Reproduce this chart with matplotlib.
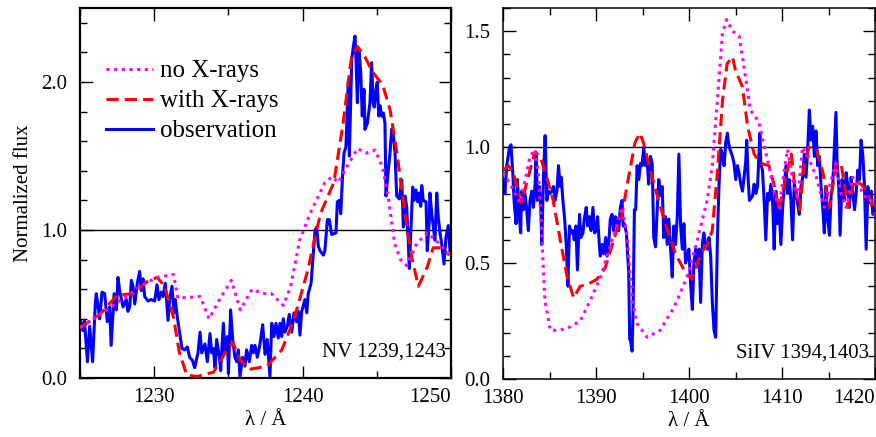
import numpy as np
import matplotlib
matplotlib.use("Agg")
import matplotlib.pyplot as plt
from matplotlib.ticker import MultipleLocator, FormatStrFormatter

plt.rcParams['font.family'] = ['Liberation Serif', 'DejaVu Serif']

# ---- NV 1239,1243 panel ----
nv_model_wl = [1225.0, 1226.35, 1228.4, 1229.2, 1230.2, 1231.3, 1231.6, 1233.1, 1233.7, 1234.4,
               1235.2, 1235.8, 1236.6, 1237.3, 1237.9, 1238.7, 1239.2, 1239.8, 1240.5, 1241.5,
               1242.0, 1242.4, 1243.0, 1243.7, 1244.3, 1244.9, 1245.4, 1245.8, 1246.2, 1246.6,
               1247.0, 1247.7, 1248.4, 1249.0, 1249.9]
nv_noxray = [0.34, 0.43, 0.57, 0.63, 0.68, 0.70, 0.54, 0.55, 0.40, 0.53,
             0.66, 0.46, 0.60, 0.57, 0.57, 0.49, 0.62, 0.93, 1.11, 1.32,
             1.36, 1.32, 1.43, 1.55, 1.52, 1.54, 1.42, 1.20, 0.91, 0.80,
             0.76, 0.91, 0.98, 0.93, 0.83]

nv_xray_wl = [1225.0, 1226.35, 1227.5, 1228.6, 1229.5, 1230.2, 1230.7, 1231.3, 1231.7, 1232.2,
              1232.9, 1234.0, 1234.9, 1235.3, 1235.8, 1236.5, 1237.6, 1238.6, 1239.4, 1240.3,
              1241.2, 1242.1, 1242.7, 1243.3, 1243.7, 1244.2, 1244.7, 1245.4, 1245.9, 1246.4,
              1246.8, 1247.3, 1247.8, 1248.4, 1248.8, 1249.3, 1249.9]
nv_xray = [0.34, 0.43, 0.56, 0.57, 0.65, 0.68, 0.62, 0.41, 0.17, 0.02,
           0.01, 0.04, 0.19, 0.24, 0.12, 0.06, 0.08, 0.19, 0.39, 0.71,
           1.11, 1.32, 1.70, 2.17, 2.24, 2.17, 2.07, 1.98, 1.81, 1.49,
           1.18, 0.84, 0.62, 0.75, 0.88, 0.88, 0.83]

nv_obs_wl = [1225.05, 1225.2, 1225.3, 1225.5, 1225.65, 1225.85, 1226.03, 1226.1, 1226.33, 1226.48,
             1226.66, 1226.84, 1227.0, 1227.1, 1227.3, 1227.45, 1227.56, 1227.67, 1227.9, 1228.12,
             1228.23, 1228.35, 1228.46, 1228.57, 1228.69, 1228.86, 1229.02, 1229.13, 1229.25, 1229.36,
             1229.58, 1229.8, 1230.03, 1230.19, 1230.32, 1230.48, 1230.59, 1230.75, 1230.93, 1231.04,
             1231.2, 1231.33, 1231.42, 1231.56, 1231.72, 1231.87, 1232.05, 1232.23, 1232.39, 1232.57,
             1232.73, 1232.95, 1233.09, 1233.2, 1233.42, 1233.58, 1233.76, 1233.87, 1233.98, 1234.1,
             1234.21, 1234.39, 1234.48, 1234.66, 1234.77, 1234.93, 1235.0, 1235.15, 1235.29, 1235.44,
             1235.56, 1235.67, 1235.78, 1235.96, 1236.12, 1236.23, 1236.41, 1236.57, 1236.68, 1236.79,
             1236.95, 1237.13, 1237.31, 1237.47, 1237.62, 1237.8, 1237.92, 1238.07, 1238.21, 1238.36,
             1238.48, 1238.59, 1238.7, 1238.81, 1238.97, 1239.1, 1239.27, 1239.42, 1239.6, 1239.71,
             1239.82, 1239.94, 1240.16, 1240.28, 1240.38, 1240.57, 1240.72, 1240.84, 1240.95, 1241.06,
             1241.17, 1241.4, 1241.5, 1241.67, 1241.8, 1241.96, 1242.25, 1242.34, 1242.47, 1242.57,
             1242.7, 1242.79, 1242.92, 1243.01, 1243.08, 1243.15, 1243.24, 1243.31, 1243.42, 1243.53,
             1243.6, 1243.69, 1243.8, 1243.92, 1244.02, 1244.14, 1244.2, 1244.36, 1244.54, 1244.65,
             1244.76, 1244.83, 1244.95, 1245.03, 1245.13, 1245.22, 1245.33, 1245.44, 1245.55, 1245.62,
             1245.78, 1245.89, 1246.0, 1246.11, 1246.23, 1246.34, 1246.52, 1246.68, 1246.79, 1246.9,
             1247.01, 1247.12, 1247.19, 1247.28, 1247.42, 1247.51, 1247.64, 1247.76, 1247.86, 1247.96,
             1248.03, 1248.13, 1248.32, 1248.4, 1248.54, 1248.58, 1248.7, 1248.81, 1248.92, 1249.04,
             1249.14, 1249.26, 1249.37, 1249.53, 1249.66, 1249.82, 1249.93]
nv_obs = [0.38, 0.32, 0.39, 0.11, 0.35, 0.11, 0.50, 0.57, 0.40, 0.58,
          0.57, 0.38, 0.48, 0.22, 0.57, 0.46, 0.68, 0.59, 0.48, 0.53,
          0.45, 0.48, 0.66, 0.62, 0.50, 0.64, 0.72, 0.59, 0.67, 0.55,
          0.52, 0.53, 0.52, 0.63, 0.53, 0.58, 0.55, 0.64, 0.39, 0.53,
          0.62, 0.44, 0.53, 0.41, 0.30, 0.20, 0.19, 0.21, 0.14, 0.12,
          0.07, 0.17, 0.31, 0.17, 0.23, 0.11, 0.30, 0.17, 0.20, 0.07,
          0.26, 0.14, 0.05, 0.37, 0.17, 0.28, 0.03, 0.46, 0.26, 0.14,
          0.11, 0.19, 0.01, 0.14, 0.08, 0.19, 0.11, 0.22, 0.17, 0.22,
          0.14, 0.23, 0.36, 0.16, 0.26, 0.01, 0.37, 0.28, 0.37, 0.27,
          0.37, 0.28, 0.40, 0.31, 0.35, 0.43, 0.31, 0.44, 0.38, 0.45,
          0.29, 0.45, 0.53, 0.44, 0.57, 0.64, 0.84, 1.00, 1.02, 0.89,
          0.86, 0.83, 0.86, 1.07, 1.07, 0.97, 0.98, 1.19, 1.20, 1.11,
          1.38, 1.52, 1.56, 1.81, 2.01, 1.50, 1.88, 2.15, 2.24, 2.31,
          2.15, 1.86, 2.22, 2.06, 1.77, 1.95, 1.68, 1.72, 1.86, 2.13,
          1.86, 1.83, 1.95, 2.00, 1.77, 1.84, 1.77, 1.79, 1.72, 1.23,
          1.41, 1.52, 1.68, 1.65, 1.52, 1.23, 1.21, 1.34, 1.02, 1.23,
          1.16, 0.93, 0.74, 0.95, 1.29, 1.20, 1.27, 1.19, 1.25, 1.16,
          1.30, 1.20, 1.19, 0.86, 1.07, 1.25, 1.11, 1.02, 0.93, 1.25,
          1.09, 0.98, 0.91, 0.77, 0.95, 1.03, 0.86]

# ---- SiIV 1394,1403 panel ----
si_model_wl = [1380.03, 1380.9, 1381.8, 1382.4, 1382.9, 1383.45, 1383.8, 1384.17, 1384.5, 1385.1,
               1386.0, 1387.0, 1388.3, 1389.4, 1390.5, 1391.5, 1392.3, 1392.8, 1393.3, 1393.9,
               1394.4, 1395.5, 1396.9, 1398.4, 1399.8, 1400.9, 1401.95, 1402.5, 1403.05, 1403.6,
               1404.06, 1404.67, 1405.4, 1405.9, 1406.6, 1407.5, 1408.1, 1408.6, 1409.2, 1409.7,
               1410.2, 1410.6, 1411.1, 1411.7, 1412.2, 1412.8, 1413.7, 1414.55, 1415.3, 1415.8,
               1416.35, 1416.9, 1417.6, 1418.3, 1419.2, 1420.0]
si_noxray = [0.89, 0.83, 0.76, 0.86, 0.96, 0.99, 0.89, 0.63, 0.34, 0.21,
             0.21, 0.22, 0.25, 0.34, 0.44, 0.57, 0.67, 0.74, 0.63, 0.34,
             0.24, 0.18, 0.21, 0.31, 0.44, 0.60, 0.77, 0.92, 1.20, 1.49,
             1.55, 1.50, 1.48, 1.35, 1.16, 1.11, 1.00, 0.92, 0.80, 0.74,
             0.89, 0.99, 0.87, 0.77, 1.00, 0.96, 0.87, 0.74, 0.86, 0.93,
             0.80, 0.74, 0.87, 0.83, 0.77, 0.77]

si_xray_wl = [1380.03, 1380.6, 1381.1, 1382.0, 1382.7, 1383.45, 1384.0, 1384.7, 1385.4, 1386.15,
              1386.9, 1387.6, 1388.3, 1389.2, 1390.1, 1391.0, 1391.9, 1392.8, 1393.5, 1394.2,
              1394.7, 1395.1, 1395.9, 1396.8, 1397.7, 1398.55, 1399.6, 1400.35, 1401.25, 1401.95,
              1402.5, 1403.05, 1403.6, 1404.1, 1404.67, 1405.0, 1405.75, 1406.3, 1407.0, 1407.7,
              1408.6, 1409.2, 1409.7, 1410.4, 1411.0, 1411.3, 1411.9, 1412.4, 1412.9, 1413.7,
              1414.4, 1415.1, 1415.8, 1416.35, 1417.1, 1417.8, 1418.5, 1419.2, 1419.95]
si_xray = [0.90, 0.92, 0.89, 0.76, 0.87, 0.98, 0.96, 0.87, 0.77, 0.60,
           0.44, 0.35, 0.40, 0.41, 0.43, 0.48, 0.60, 0.71, 0.87, 1.02,
           1.06, 1.02, 0.89, 0.76, 0.64, 0.54, 0.46, 0.43, 0.54, 0.58,
           0.64, 0.89, 1.20, 1.36, 1.39, 1.33, 1.26, 1.09, 0.97, 0.93,
           0.92, 0.83, 0.73, 0.87, 0.97, 0.86, 0.73, 0.93, 1.00, 0.99,
           0.89, 0.74, 0.92, 0.93, 0.74, 0.86, 0.84, 0.81, 0.71]

si_obs_wl = [1380.04, 1380.2, 1380.4, 1380.7, 1380.86, 1381.05, 1381.19, 1381.4, 1381.55, 1381.76,
             1381.9, 1382.0, 1382.2, 1382.37, 1382.55, 1382.73, 1382.9, 1383.1, 1383.27, 1383.45,
             1383.56, 1383.7, 1383.9, 1384.07, 1384.17, 1384.35, 1384.53, 1384.71, 1384.89, 1385.07,
             1385.25, 1385.43, 1385.6, 1385.8, 1385.97, 1386.15, 1386.26, 1386.44, 1386.61, 1386.8,
             1386.98, 1387.15, 1387.34, 1387.52, 1387.66, 1387.84, 1388.0, 1388.23, 1388.38, 1388.6,
             1388.74, 1388.95, 1389.1, 1389.3, 1389.46, 1389.67, 1389.85, 1390.03, 1390.17, 1390.36,
             1390.46, 1390.65, 1390.82, 1391.04, 1391.19, 1391.36, 1391.54, 1391.73, 1391.9, 1392.08,
             1392.27, 1392.44, 1392.62, 1392.8, 1392.91, 1393.05, 1393.27, 1393.41, 1393.52, 1393.62,
             1393.7, 1393.88, 1393.99, 1394.13, 1394.27, 1394.42, 1394.6, 1394.78, 1394.96, 1395.13,
             1395.32, 1395.5, 1395.67, 1395.86, 1396.04, 1396.21, 1396.4, 1396.58, 1396.75, 1396.94,
             1397.12, 1397.29, 1397.48, 1397.66, 1397.83, 1398.0, 1398.2, 1398.37, 1398.55, 1398.74,
             1398.91, 1399.1, 1399.28, 1399.45, 1399.63, 1399.82, 1399.99, 1400.17, 1400.36, 1400.53,
             1400.71, 1400.9, 1401.07, 1401.25, 1401.43, 1401.6, 1401.79, 1401.97, 1402.15, 1402.33,
             1402.51, 1402.69, 1402.87, 1403.05, 1403.23, 1403.41, 1403.59, 1403.77, 1403.95, 1404.13,
             1404.24, 1404.41, 1404.67, 1404.84, 1405.03, 1405.21, 1405.38, 1405.57, 1405.75, 1405.92,
             1406.1, 1406.21, 1406.35, 1406.5, 1406.83, 1407.0, 1407.18, 1407.37, 1407.62, 1407.72,
             1407.9, 1408.08, 1408.26, 1408.45, 1408.62, 1408.8, 1408.99, 1409.16, 1409.34, 1409.53,
             1409.7, 1409.88, 1410.07, 1410.24, 1410.42, 1410.6, 1410.78, 1410.96, 1411.14, 1411.32,
             1411.5, 1411.68, 1411.86, 1412.04, 1412.22, 1412.4, 1412.58, 1412.76, 1412.94, 1413.12,
             1413.3, 1413.48, 1413.66, 1413.84, 1414.02, 1414.2, 1414.38, 1414.55, 1414.74, 1414.92,
             1415.1, 1415.28, 1415.46, 1415.63, 1415.8, 1415.92, 1416.1, 1416.25, 1416.46, 1416.7,
             1416.9, 1417.08, 1417.25, 1417.43, 1417.6, 1417.8, 1417.97, 1418.15, 1418.33, 1418.5,
             1418.7, 1418.87, 1419.05, 1419.23, 1419.4, 1419.6, 1419.77, 1419.95]
si_obs = [0.86, 0.80, 0.92, 1.00, 1.01, 0.89, 0.77, 0.67, 0.86, 0.70,
          0.63, 0.81, 0.73, 0.80, 0.73, 0.64, 0.77, 0.81, 0.74, 0.84,
          0.97, 0.77, 0.83, 0.74, 0.58, 0.87, 1.05, 0.77, 0.81, 0.80,
          0.81, 0.83, 0.77, 0.81, 0.92, 0.83, 0.87, 0.77, 0.70, 0.58,
          0.40, 0.66, 0.63, 0.64, 0.60, 0.66, 0.47, 0.71, 0.61, 0.63,
          0.69, 0.74, 0.66, 0.70, 0.64, 0.74, 0.63, 0.64, 0.70, 0.58,
          0.53, 0.58, 0.54, 0.61, 0.53, 0.58, 0.69, 0.71, 0.64, 0.70,
          0.69, 0.64, 0.74, 0.77, 0.66, 0.67, 0.63, 0.53, 0.46, 0.17,
          0.17, 0.12, 0.30, 0.73, 0.73, 0.92, 0.86, 0.93, 0.92, 1.00,
          0.92, 0.94, 0.84, 0.96, 0.93, 0.61, 0.57, 0.73, 0.86, 0.79,
          0.83, 0.61, 0.70, 0.58, 0.69, 0.58, 0.44, 0.66, 0.58, 0.70,
          0.97, 0.66, 0.56, 0.67, 0.50, 0.53, 0.56, 0.41, 0.30, 0.50,
          0.56, 0.50, 0.56, 0.33, 0.58, 0.63, 0.58, 0.56, 0.61, 0.53,
          0.33, 0.21, 0.18, 0.60, 0.84, 0.99, 0.97, 0.92, 1.02, 1.06,
          1.02, 0.99, 0.96, 0.93, 0.86, 0.92, 0.89, 0.84, 0.81, 0.87,
          0.94, 1.03, 0.87, 0.77, 0.79, 0.84, 0.80, 0.83, 1.06, 0.93,
          0.90, 0.77, 0.60, 0.80, 0.77, 0.84, 0.77, 0.56, 0.81, 0.67,
          0.73, 0.58, 0.74, 0.83, 0.92, 0.80, 0.86, 0.77, 0.60, 0.84,
          0.80, 0.76, 0.71, 0.83, 0.87, 0.97, 0.87, 0.99, 1.16, 1.03,
          1.09, 0.96, 1.07, 0.92, 0.96, 0.83, 0.74, 0.63, 0.83, 0.69,
          0.62, 0.79, 0.84, 0.99, 1.15, 0.94, 0.83, 0.62, 0.86, 0.77,
          0.89, 0.83, 0.74, 0.87, 0.81, 0.73, 0.80, 0.90, 0.86, 1.03,
          0.96, 0.83, 0.56, 0.83, 0.76, 0.81, 0.71, 0.73]

nv_ticks = [1230, 1240, 1250]
si_ticks = [1380, 1390, 1400, 1410, 1420]

blue = '#0000ff'
red = '#ff0000'
magenta = '#ff00ff'
lw = 2.2

fig = plt.figure(figsize=(8.76, 4.37), dpi=100)
ax1 = fig.add_axes([80/876, 1-378/437, 371/876, 370/437])
ax2 = fig.add_axes([503/876, 1-379/437, 372/876, 371/437])


def draw(ax, mwl, m_nox, xwl, m_x, owl, obs, xticks):
    ax.axhline(1.0, color='k', lw=1.0, zorder=1)
    l_obs, = ax.plot(owl, obs, color=blue, lw=lw, zorder=2, label='observation')
    l_x, = ax.plot(xwl, m_x, color=red, lw=lw, dashes=(4, 2), zorder=3, label='with X-rays')
    l_n, = ax.plot(mwl, m_nox, color=magenta, lw=lw, dashes=(1, 1.5), zorder=4, label='no X-rays')
    ax.set_xticks(xticks, labels=[str(t) for t in xticks])
    ax.xaxis.set_minor_locator(MultipleLocator(5))
    ax.tick_params(which='both', direction='in', top=True, right=True, labelsize=15, width=1.0)
    ax.tick_params(which='major', length=9)
    ax.tick_params(which='minor', length=5)
    ax.tick_params(axis='x', pad=7)
    ax.tick_params(axis='y', pad=9)
    ax.yaxis.set_major_formatter(FormatStrFormatter('%.1f'))
    ax.set_xlabel('λ / Å', fontsize=15, labelpad=3)
    ax.get_xticklabels()[-1].set_horizontalalignment('right')
    return l_n, l_x, l_obs


handles = draw(ax1, nv_model_wl, nv_noxray, nv_xray_wl, nv_xray, nv_obs_wl, nv_obs, nv_ticks)
ax1.set_xlim(1225, 1250)
ax1.set_ylim(0, 2.5)
ax1.yaxis.set_major_locator(MultipleLocator(1.0))
ax1.yaxis.set_minor_locator(MultipleLocator(0.2))
ax1.set_ylabel('Normalized flux', fontsize=15, labelpad=6)
for s in ax1.spines.values():
    s.set_linewidth(1.6)
ax1.text(0.985, 0.045, 'NV 1239,1243', transform=ax1.transAxes, ha='right', va='bottom', fontsize=15)
ax1.legend(handles=list(handles), loc='upper left', bbox_to_anchor=(0.07, 0.86), frameon=False,
           fontsize=18, handlelength=1.9, handletextpad=0.25, labelspacing=0.3,
           borderaxespad=0, borderpad=0)

draw(ax2, si_model_wl, si_noxray, si_xray_wl, si_xray, si_obs_wl, si_obs, si_ticks)
ax2.set_xlim(1380, 1420)
ax2.set_ylim(0, 1.6)
ax2.yaxis.set_major_locator(MultipleLocator(0.5))
ax2.yaxis.set_minor_locator(MultipleLocator(0.1))
for s in ax2.spines.values():
    s.set_linewidth(1.1)
ax2.text(0.985, 0.045, 'SiIV 1394,1403', transform=ax2.transAxes, ha='right', va='bottom', fontsize=15)

fig.savefig('out.png', dpi=100)
